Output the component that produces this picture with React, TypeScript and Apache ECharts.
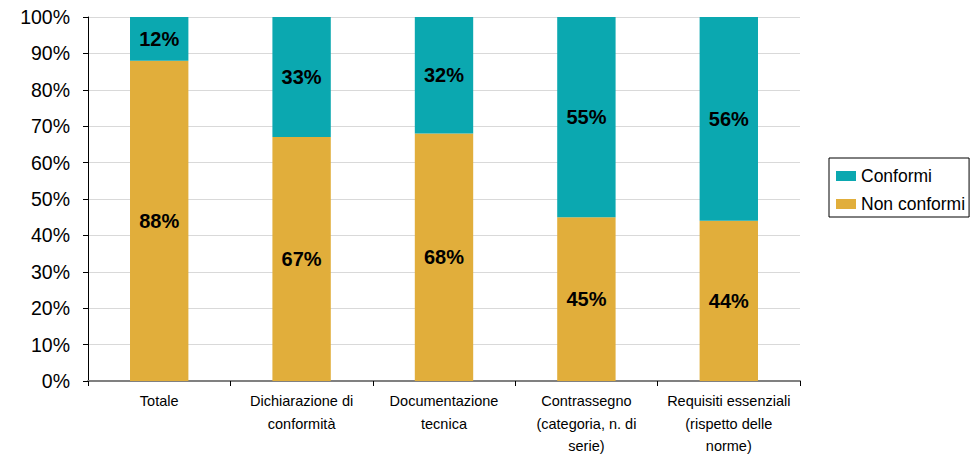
import React, { useEffect, useRef } from "react";
import * as echarts from "echarts";

const categories = [
  "Totale",
  "Dichiarazione di\nconformità",
  "Documentazione\ntecnica",
  "Contrassegno\n(categoria, n. di\nserie)",
  "Requisiti essenziali\n(rispetto delle\nnorme)",
];
const nonConformi = [88, 67, 68, 45, 44];
const conformi = [12, 33, 32, 55, 56];
const seriesNames = ["Conformi", "Non conformi"];

const TEAL = "#0BA8B0";
const GOLD = "#E1AE3B";
const FONT = "'Liberation Sans', Arial, sans-serif";

export default function App() {
  const ref = useRef<HTMLDivElement>(null);
  useEffect(() => {
    if (!ref.current) return;
    const chart = echarts.init(ref.current, undefined, { renderer: "svg" });
    const label = {
      show: true,
      position: "inside",
      formatter: "{c}%",
      color: "#000",
      fontWeight: "bold",
      fontSize: 20,
      fontFamily: FONT,
    };
    chart.setOption({
      animation: false,
      textStyle: { fontFamily: FONT },
      grid: { left: 88, right: 177, top: 17, bottom: 73, outerBoundsMode: "none", containLabel: false },
      legend: {
        orient: "vertical",
        left: 829,
        top: 158,
        data: seriesNames,
        icon: "rect",
        itemWidth: 20,
        itemHeight: 10,
        itemGap: 10,
        borderColor: "#000",
        borderWidth: 1,
        borderRadius: 0,
        padding: [9, 4, 4, 7],
        textStyle: { fontSize: 17.5, lineHeight: 18, color: "#000", fontFamily: FONT },
      },
      xAxis: {
        type: "category",
        data: categories,
        axisLine: { show: true, lineStyle: { color: "#808080", width: 2 } },
        axisTick: { show: true, alignWithLabel: false, length: 5, lineStyle: { color: "#000" } },
        axisLabel: {
          interval: 0,
          color: "#000",
          fontSize: 14.5,
          lineHeight: 22.5,
          margin: 9,
          fontFamily: FONT,
        },
      },
      yAxis: {
        type: "value",
        min: 0,
        max: 100,
        interval: 10,
        axisLine: { show: true, lineStyle: { color: "#000" } },
        axisTick: { show: true, length: 5, lineStyle: { color: "#000" } },
        axisLabel: {
          formatter: "{value}%",
          color: "#000",
          fontSize: 19.5,
          margin: 18,
          fontFamily: FONT,
        },
        splitLine: { show: true, lineStyle: { color: "#D9D9D9" } },
      },
      series: [
        {
          name: "Non conformi",
          type: "bar",
          stack: "total",
          data: nonConformi,
          barWidth: "41%",
          itemStyle: { color: GOLD },
          label,
        },
        {
          name: "Conformi",
          type: "bar",
          stack: "total",
          data: conformi,
          barWidth: "41%",
          itemStyle: { color: TEAL },
          label,
        },
      ],
    });
    return () => chart.dispose();
  }, []);
  return <div ref={ref} style={{ width: 977, height: 454, position: "absolute", left: 0, top: 0 }} />;
}
